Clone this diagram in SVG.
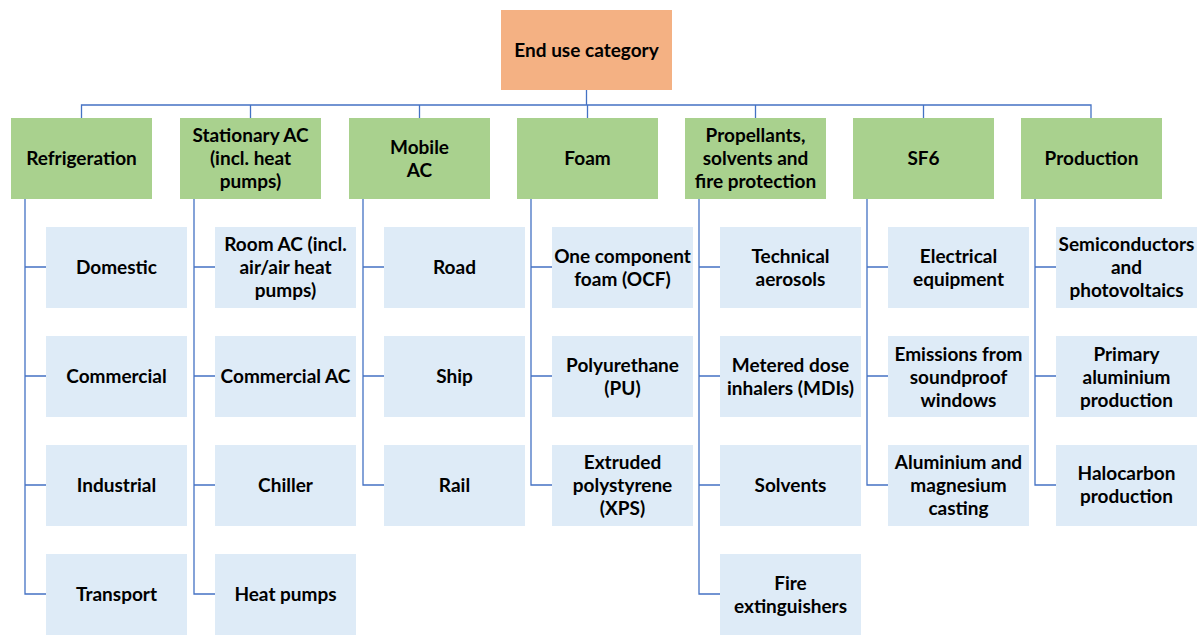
<svg xmlns="http://www.w3.org/2000/svg" width="1203" height="635" viewBox="0 0 1203 635">
<style>
.top{fill:#F4B183}
.cat{fill:#A9D18E}
.sub{fill:#DEEBF7}
text{font-family:Lato,"Open Sans","Liberation Sans",sans-serif;font-weight:bold;font-size:19px;fill:#000;text-anchor:middle}
.ln{fill:none;stroke:#4472C4;stroke-width:1.3}
</style>
<rect width="1203" height="635" fill="#fff"/>
<g id="connectors" class="ln">
<path d="M586.5 90V105M81.5 118V105H1091V118M250.5 105V118M419.5 105V118M587.5 105V118M755.5 105V118M923.5 105V118"/>
<path d="M25 199V594H46M25 267H46M25 376H46M25 485H46"/>
<path d="M194 199V594H215M194 267H215M194 376H215M194 485H215"/>
<path d="M363 199V485H384M363 267H384M363 376H384"/>
<path d="M531 199V485H552M531 267H552M531 376H552"/>
<path d="M699 199V594H720M699 267H720M699 376H720M699 485H720"/>
<path d="M867 199V485H888M867 267H888M867 376H888"/>
<path d="M1035 199V485H1056M1035 267H1056M1035 376H1056"/>
</g>
<g id="root"><rect class="top" x="501" y="10" width="171" height="80"/><text x="586.5" y="56.5">End use category</text></g>
<g id="refrigeration"><rect class="cat" x="11" y="118" width="141" height="81"/><text x="81.5" y="164.5">Refrigeration</text></g>
<g id="stationary"><rect class="cat" x="180" y="118" width="141" height="81"/><text x="250.5" y="141.5">Stationary AC</text><text x="250.5" y="164.5">(incl. heat</text><text x="250.5" y="187.5">pumps)</text></g>
<g id="mobile"><rect class="cat" x="349" y="118" width="141" height="81"/><text x="419.5" y="153.5">Mobile</text><text x="419.5" y="176.5">AC</text></g>
<g id="foam"><rect class="cat" x="517" y="118" width="141" height="81"/><text x="587.5" y="164.5">Foam</text></g>
<g id="propellants"><rect class="cat" x="685" y="118" width="141" height="81"/><text x="755.5" y="141.5">Propellants,</text><text x="755.5" y="164.5">solvents and</text><text x="755.5" y="187.5">fire protection</text></g>
<g id="sf6"><rect class="cat" x="853" y="118" width="141" height="81"/><text x="923.5" y="164.5">SF6</text></g>
<g id="production"><rect class="cat" x="1021" y="118" width="141" height="81"/><text x="1091.5" y="164.5">Production</text></g>

<g id="domestic"><rect class="sub" x="46" y="227" width="141" height="81"/><text x="116.5" y="273.5">Domestic</text></g>
<g id="commercial"><rect class="sub" x="46" y="336" width="141" height="81"/><text x="116.5" y="382.5">Commercial</text></g>
<g id="industrial"><rect class="sub" x="46" y="445" width="141" height="81"/><text x="116.5" y="491.5">Industrial</text></g>
<g id="transport"><rect class="sub" x="46" y="554" width="141" height="81"/><text x="116.5" y="600.5">Transport</text></g>

<g id="roomac"><rect class="sub" x="215" y="227" width="141" height="81"/><text x="285.5" y="250.5">Room AC (incl.</text><text x="285.5" y="273.5">air/air heat</text><text x="285.5" y="296.5">pumps)</text></g>
<g id="commercialac"><rect class="sub" x="215" y="336" width="141" height="81"/><text x="285.5" y="382.5">Commercial AC</text></g>
<g id="chiller"><rect class="sub" x="215" y="445" width="141" height="81"/><text x="285.5" y="491.5">Chiller</text></g>
<g id="heatpumps"><rect class="sub" x="215" y="554" width="141" height="81"/><text x="285.5" y="600.5">Heat pumps</text></g>

<g id="road"><rect class="sub" x="384" y="227" width="141" height="81"/><text x="454.5" y="273.5">Road</text></g>
<g id="ship"><rect class="sub" x="384" y="336" width="141" height="81"/><text x="454.5" y="382.5">Ship</text></g>
<g id="rail"><rect class="sub" x="384" y="445" width="141" height="81"/><text x="454.5" y="491.5">Rail</text></g>

<g id="ocf"><rect class="sub" x="552" y="227" width="141" height="81"/><text x="622.5" y="262.5">One component</text><text x="622.5" y="285.5">foam (OCF)</text></g>
<g id="pu"><rect class="sub" x="552" y="336" width="141" height="81"/><text x="622.5" y="371.5">Polyurethane</text><text x="622.5" y="394.5">(PU)</text></g>
<g id="xps"><rect class="sub" x="552" y="445" width="141" height="81"/><text x="622.5" y="468.5">Extruded</text><text x="622.5" y="491.5">polystyrene</text><text x="622.5" y="514.5">(XPS)</text></g>

<g id="aerosols"><rect class="sub" x="720" y="227" width="141" height="81"/><text x="790.5" y="262.5">Technical</text><text x="790.5" y="285.5">aerosols</text></g>
<g id="mdi"><rect class="sub" x="720" y="336" width="141" height="81"/><text x="790.5" y="371.5">Metered dose</text><text x="790.5" y="394.5">inhalers (MDIs)</text></g>
<g id="solvents"><rect class="sub" x="720" y="445" width="141" height="81"/><text x="790.5" y="491.5">Solvents</text></g>
<g id="fire"><rect class="sub" x="720" y="554" width="141" height="81"/><text x="790.5" y="589.5">Fire</text><text x="790.5" y="612.5">extinguishers</text></g>

<g id="electrical"><rect class="sub" x="888" y="227" width="141" height="81"/><text x="958.5" y="262.5">Electrical</text><text x="958.5" y="285.5">equipment</text></g>
<g id="windows"><rect class="sub" x="888" y="336" width="141" height="81"/><text x="958.5" y="360.5">Emissions from</text><text x="958.5" y="383.5">soundproof</text><text x="958.5" y="406.5">windows</text></g>
<g id="casting"><rect class="sub" x="888" y="445" width="141" height="81"/><text x="958.5" y="468.5">Aluminium and</text><text x="958.5" y="491.5">magnesium</text><text x="958.5" y="514.5">casting</text></g>

<g id="semiconductors"><rect class="sub" x="1056" y="227" width="141" height="81"/><text x="1126.5" y="250.5">Semiconductors</text><text x="1126.5" y="273.5">and</text><text x="1126.5" y="296.5">photovoltaics</text></g>
<g id="aluminium"><rect class="sub" x="1056" y="336" width="141" height="81"/><text x="1126.5" y="360.5">Primary</text><text x="1126.5" y="383.5">aluminium</text><text x="1126.5" y="406.5">production</text></g>
<g id="halocarbon"><rect class="sub" x="1056" y="445" width="141" height="81"/><text x="1126.5" y="479.5">Halocarbon</text><text x="1126.5" y="502.5">production</text></g>
</svg>
